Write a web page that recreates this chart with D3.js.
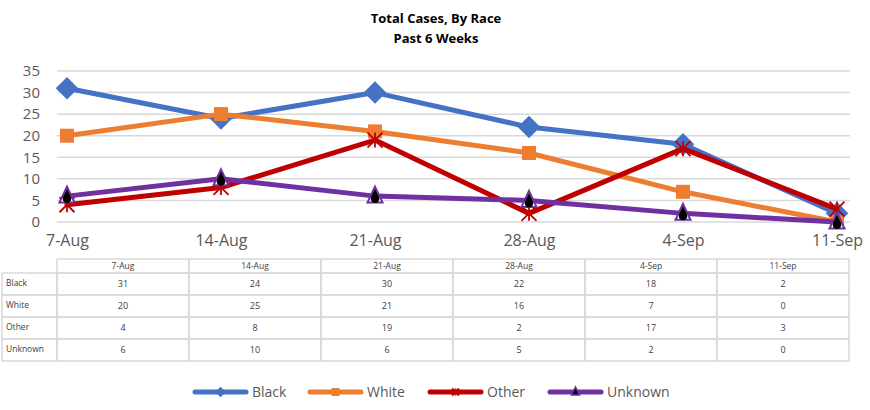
<!DOCTYPE html>
<html>
<head>
<meta charset="utf-8">
<script src="https://cdn.jsdelivr.net/npm/d3@7"></script>
<style>
  body { margin: 0; background: #fff; }
  svg text { font-family: "Open Sans", "Noto Sans", sans-serif; }
</style>
</head>
<body>
<div id="chart"></div>
<script>
var weeks = ["7-Aug", "14-Aug", "21-Aug", "28-Aug", "4-Sep", "11-Sep"];
var black = [31, 24, 30, 22, 18, 2];
var white = [20, 25, 21, 16, 7, 0];
var other = [4, 8, 19, 2, 17, 3];
var unknown = [6, 10, 6, 5, 2, 0];
var yTicks = [0, 5, 10, 15, 20, 25, 30, 35];

var series = [
  { name: "Black", values: black, color: "#4472C4", marker: "diamond" },
  { name: "White", values: white, color: "#ED7D31", marker: "square" },
  { name: "Other", values: other, color: "#C00000", marker: "star" },
  { name: "Unknown", values: unknown, color: "#7030A0", marker: "triangle" }
];

var w = 870, h = 410;
var svg = d3.select("#chart").append("svg").attr("width", w).attr("height", h);

// title
svg.append("text").attr("x", 436).attr("y", 23).attr("text-anchor", "middle")
  .attr("font-size", 13).attr("font-weight", "bold").attr("fill", "#000").text("Total Cases, By Race");
svg.append("text").attr("x", 436).attr("y", 43).attr("text-anchor", "middle")
  .attr("font-size", 13).attr("font-weight", "bold").attr("fill", "#000").text("Past 6 Weeks");

var x = d3.scalePoint().domain(weeks).range([67, 837]);
var y = d3.scaleLinear().domain([0, 35]).range([222, 71]);

// gridlines
svg.append("g").selectAll("line").data(yTicks).enter().append("line")
  .attr("x1", 57).attr("x2", 850)
  .attr("y1", function (d) { return y(d); })
  .attr("y2", function (d) { return y(d); })
  .attr("stroke", "#d9d9d9").attr("stroke-width", 1.5);

// y axis labels
var yAxis = d3.axisLeft(y).tickValues(yTicks).tickSize(0).tickPadding(0);
var gy = svg.append("g").attr("transform", "translate(40,0)").call(yAxis);
gy.select(".domain").remove();
gy.selectAll("text").attr("font-size", 15).attr("fill", "#595959")
  .attr("font-family", "'Open Sans', sans-serif");

// x axis labels
var xAxis = d3.axisBottom(x).tickSize(0).tickPadding(0);
var gx = svg.append("g").attr("transform", "translate(0,235)").call(xAxis);
gx.select(".domain").remove();
gx.selectAll("text").attr("font-size", 16).attr("fill", "#595959")
  .attr("font-family", "'Open Sans', sans-serif");

// lines
var line = d3.line()
  .x(function (d, i) { return x(weeks[i]); })
  .y(function (d) { return y(d); });

function drawMarker(g, type, color, s) {
  if (type === "diamond") {
    g.append("path").attr("d", d3.symbol().type(d3.symbolDiamond2 || d3.symbolDiamond).size(s * s * 0.9)())
      .attr("fill", color);
  } else if (type === "square") {
    g.append("rect").attr("x", -s / 2).attr("y", -s / 2).attr("width", s).attr("height", s).attr("fill", color);
  } else if (type === "star") {
    var r = s / 2;
    g.append("path").attr("d", "M" + (-r) + "," + (-r) + "L" + r + "," + r + "M" + (-r) + "," + r + "L" + r + "," + (-r) + "M0," + (-r) + "L0," + r)
      .attr("stroke", color).attr("stroke-width", 1.8);
  } else if (type === "triangle") {
    var r2 = s / 2;
    g.append("path").attr("d", "M0," + (-r2 - 2) + "L" + r2 + "," + (r2 - 1) + "L" + (-r2) + "," + (r2 - 1) + "Z")
      .attr("fill", "#fff").attr("stroke", color).attr("stroke-width", 2);
    var k = s / 14;
    g.append("path").attr("d", "M0," + (-7 * k) + "C" + (1.5 * k) + "," + (-3 * k) + " " + (4 * k) + "," + (0 * k) + " " + (4 * k) + "," + (2.5 * k) +
      "A" + (4 * k) + "," + (4 * k) + " 0 0 1 " + (-4 * k) + "," + (2.5 * k) + "C" + (-4 * k) + "," + 0 + " " + (-1.5 * k) + "," + (-3 * k) + " 0," + (-7 * k) + "Z")
      .attr("fill", "#000");
  }
}

series.forEach(function (s) {
  svg.append("path").datum(s.values).attr("d", line)
    .attr("fill", "none").attr("stroke", s.color).attr("stroke-width", 5)
    .attr("stroke-linejoin", "round").attr("stroke-linecap", "round");
  svg.append("g").selectAll("g").data(s.values).enter().append("g")
    .attr("transform", function (d, i) { return "translate(" + x(weeks[i]) + "," + y(d) + ")"; })
    .each(function () {
      var size = s.marker === "diamond" ? 19 : (s.marker === "square" ? 14 : 15);
      drawMarker(d3.select(this), s.marker, s.color, size);
    });
});

// data table
var tLeft = 57, colW = 132, tTop = 259, headH = 14, rowH = 22;
var table = svg.append("g");
var tblColor = "#d9d9d9";
table.selectAll("rect.hd").data(weeks).enter().append("rect")
  .attr("x", function (d, i) { return tLeft + i * colW; }).attr("y", tTop)
  .attr("width", colW).attr("height", headH)
  .attr("fill", "none").attr("stroke", tblColor).attr("stroke-width", 1.5);
table.selectAll("text.hd").data(weeks).enter().append("text")
  .attr("x", function (d, i) { return tLeft + i * colW + colW / 2; }).attr("y", tTop + 10)
  .attr("text-anchor", "middle").attr("font-size", 8.5).attr("fill", "#404040").text(function (d) { return d; });

series.forEach(function (s, r) {
  var ry = tTop + headH + r * rowH;
  table.append("rect").attr("x", 2).attr("y", ry).attr("width", tLeft - 2).attr("height", rowH)
    .attr("fill", "none").attr("stroke", tblColor).attr("stroke-width", 1.5);
  table.append("text").attr("x", 6).attr("y", ry + 13).attr("font-size", 8.5).attr("fill", "#404040").text(s.name);
  s.values.forEach(function (v, i) {
    table.append("rect").attr("x", tLeft + i * colW).attr("y", ry).attr("width", colW).attr("height", rowH)
      .attr("fill", "none").attr("stroke", tblColor).attr("stroke-width", 1.5);
    table.append("text").attr("x", tLeft + i * colW + colW / 2).attr("y", ry + 14)
      .attr("text-anchor", "middle").attr("font-size", 9).attr("fill", "#404040").text(v);
  });
});

// legend
var legX = [193, 308, 428, 548];
var legend = svg.append("g");
series.forEach(function (s, i) {
  var g = legend.append("g").attr("transform", "translate(" + legX[i] + ",392)");
  g.append("line").attr("x1", 2).attr("x2", 53).attr("stroke", s.color).attr("stroke-width", 5).attr("stroke-linecap", "round");
  var m = g.append("g").attr("transform", "translate(27.5,0)");
  if (s.marker === "diamond") drawMarker(m, "diamond", s.color, 9);
  else if (s.marker === "square") drawMarker(m, "square", s.color, 8);
  else if (s.marker === "star") drawMarker(m, "star", s.color, 7);
  else {
    m.append("path").attr("d", "M0,-5L4,3L-4,3Z").attr("fill", "#000").attr("stroke", s.color).attr("stroke-width", 1.5);
  }
  g.append("text").attr("x", 59).attr("y", 5).attr("font-size", 14).attr("fill", "#595959").text(s.name);
});
</script>
</body>
</html>
